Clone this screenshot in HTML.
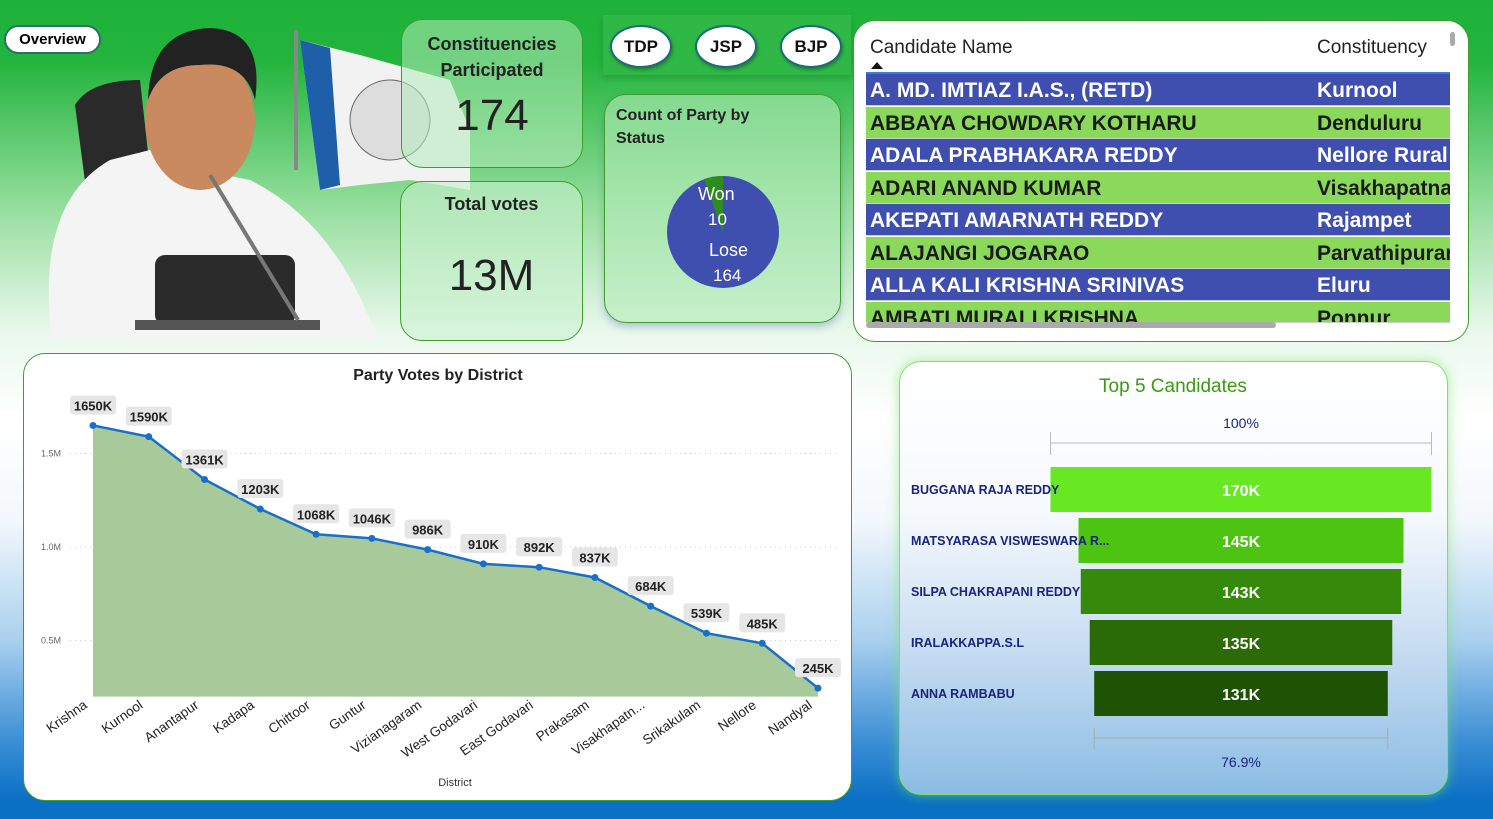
<!DOCTYPE html>
<html><head><meta charset="utf-8">
<style>
*{margin:0;padding:0;box-sizing:border-box}
body{width:1493px;height:819px;overflow:hidden;position:relative;font-family:"Liberation Sans",sans-serif;
background:linear-gradient(180deg,#1fb23a 0px,#22b43c 60px,#8fdc98 200px,#e9f8ec 330px,#ffffff 420px,#f3f8fc 520px,#a9d0ee 640px,#3c8fd6 740px,#0a70c4 800px);}
.card{position:absolute;border-radius:22px;border:1.5px solid #3f9d2c}
.bold{font-weight:bold}
.pill{position:absolute;background:#fff;border-radius:50%;border:2px solid #1a6c7a;box-shadow:1px 2px 3px rgba(0,0,0,.3);font-weight:bold;font-size:17px;display:flex;align-items:center;justify-content:center;color:#111}
.row{position:absolute;left:866px;width:584px;height:32px;font-weight:bold;font-size:21px;line-height:33px;white-space:nowrap;overflow:hidden;border-bottom:1px solid #ccc}
.row span{position:absolute;top:0}
.blue{background:#3f4fb0;color:#fff}.green{background:#8bd95a;color:#1a1a1a}
</style></head><body>
<div style="position:absolute;left:4px;top:25px;width:97px;height:29px;border-radius:15px;background:#fff;border:2px solid #2a6f6a;font-weight:bold;font-size:15px;text-align:center;line-height:25px">Overview</div>

<svg style="position:absolute;left:30px;top:20px" width="440" height="330">
 <rect x="264" y="10" width="4" height="140" fill="#888"/>
 <path d="M270 20 L330 35 L420 60 L440 110 L440 170 L380 160 L330 165 L290 170 Z" fill="#f2f2f2"/>
 <path d="M270 20 L300 28 L310 165 L290 170 Z" fill="#1f5ea8"/>
 <circle cx="360" cy="100" r="40" fill="#ddd" stroke="#666"/>
 <path d="M45 85 Q60 60 110 60 L120 150 L60 200 Z" fill="#2a2a2a"/>
 <path d="M20 300 Q10 180 80 140 L120 130 L170 150 L220 160 Q300 200 340 300 L350 320 L20 320 Z" fill="#f4f4f4"/>
 <ellipse cx="170" cy="100" rx="55" ry="70" fill="#c98a60"/>
 <path d="M118 80 Q120 10 180 8 Q235 10 225 80 Q215 40 170 45 Q130 45 118 80Z" fill="#222"/>
 <rect x="125" y="235" width="140" height="70" rx="10" fill="#2b2b2b"/>
 <rect x="105" y="300" width="185" height="10" fill="#555"/>
 <line x1="180" y1="155" x2="268" y2="300" stroke="#777" stroke-width="4"/>
</svg>

<div class="card" style="left:401px;top:19px;width:182px;height:149px;background:rgba(180,235,185,.55)">
 <div class="bold" style="text-align:center;font-size:18px;margin-top:11px;line-height:26px;color:#222">Constituencies<br>Participated</div>
 <div style="text-align:center;font-size:44px;margin-top:8px;color:#222">174</div>
</div>
<div class="card" style="left:400px;top:181px;width:183px;height:160px;background:rgba(200,240,205,.6)">
 <div class="bold" style="text-align:center;font-size:18px;margin-top:12px;color:#222">Total votes</div>
 <div style="text-align:center;font-size:44px;margin-top:36px;color:#222">13M</div>
</div>

<div style="position:absolute;left:603px;top:15px;width:248px;height:60px;background:#2fb845;box-shadow:0 3px 6px rgba(0,0,0,.15)"></div>
<div class="pill" style="left:610px;top:25px;width:62px;height:43px">TDP</div>
<div class="pill" style="left:695px;top:25px;width:62px;height:43px">JSP</div>
<div class="pill" style="left:780px;top:25px;width:62px;height:43px">BJP</div>

<div class="card" style="left:604px;top:94px;width:237px;height:229px;background:rgba(180,235,185,.6);box-shadow:0 4px 8px rgba(60,80,160,.3)">
 <div class="bold" style="font-size:16px;line-height:23px;margin:9px 0 0 11px;color:#222">Count of Party by<br>Status</div>
</div>
<svg style="position:absolute;left:660px;top:170px" width="130" height="130">
 <circle cx="63" cy="62" r="56" fill="#3f4fb0"/>
 <path d="M63 62 L63 6 A56 56 0 0 0 44 9 Z" fill="#2e8b1e"/>
 <text x="38" y="30" font-size="18" fill="#fff" font-family="Liberation Sans">Won</text>
 <text x="48" y="55" font-size="17" fill="#fff" font-family="Liberation Sans">10</text>
 <text x="49" y="86" font-size="18" fill="#fff" font-family="Liberation Sans">Lose</text>
 <text x="53" y="111" font-size="17" fill="#fff" font-family="Liberation Sans">164</text>
</svg>

<div class="card" style="left:853px;top:20px;width:616px;height:322px;background:#fff;overflow:hidden">
</div>
<div style="position:absolute;left:870px;top:37px;font-size:19px;color:#222">Candidate Name</div>
<div style="position:absolute;left:871px;top:62px;width:0;height:0;border-left:6px solid transparent;border-right:6px solid transparent;border-bottom:7px solid #111"></div>
<div style="position:absolute;left:1317px;top:37px;font-size:19px;color:#222">Constituency</div>
<div style="position:absolute;left:866px;top:72px;width:584px;height:2px;background:#3a7fd8"></div>
<div id="rows"></div>
<div style="position:absolute;left:866px;top:322px;width:410px;height:6px;border-radius:3px;background:#aaa"></div>
<div style="position:absolute;left:1450px;top:32px;width:5px;height:14px;border-radius:3px;background:#aaa"></div>

<div class="card" style="left:23px;top:353px;width:829px;height:448px;background:#fff;border-color:#3f9d2c"></div>
<svg id="area" style="position:absolute;left:0;top:0" width="860" height="819"></svg>

<div class="card" style="left:899px;top:361px;width:549px;height:434px;background:linear-gradient(180deg,#fff 0%,#f6f9fd 35%,#c9def2 65%,#8bbce4 100%);border-color:#7ee06a;box-shadow:0 0 12px rgba(120,230,100,.6)"></div>
<svg id="funnel" style="position:absolute;left:0;top:0" width="1493" height="819"></svg>

<script>
const names=["A. MD. IMTIAZ I.A.S., (RETD)","ABBAYA CHOWDARY KOTHARU","ADALA PRABHAKARA REDDY","ADARI ANAND KUMAR","AKEPATI AMARNATH REDDY","ALAJANGI JOGARAO","ALLA KALI KRISHNA SRINIVAS","AMBATI MURALI KRISHNA"];
const consts=["Kurnool","Denduluru","Nellore Rural","Visakhapatnam","Rajampet","Parvathipuram","Eluru","Ponnur"];
const rowsEl=document.getElementById('rows');
names.forEach((n,i)=>{
 const r=document.createElement('div');
 
 
 r.className='row '+(i%2?'green':'blue');
 r.style.top=(74+i*32.5)+'px';
 if(i===7){r.style.height='21px';}
 r.innerHTML='<span style="left:4px">'+n+'</span><span style="left:451px">'+consts[i]+'</span>';
 rowsEl.appendChild(r);
});

const districts=["Krishna","Kurnool","Anantapur","Kadapa","Chittoor","Guntur","Vizianagaram","West Godavari","East Godavari","Prakasam","Visakhapatn...","Srikakulam","Nellore","Nandyal"];
const votesK=[1650,1590,1361,1203,1068,1046,986,910,892,837,684,539,485,245];
const yTicks=[0.5,1.0,1.5];
const yTickLabels=["0.5M","1.0M","1.5M"];
const NS="http://www.w3.org/2000/svg";
const svg=document.getElementById('area');
const x0=93,x1=818,yMin=0.2;
const X=i=>x0+i*(x1-x0)/(districts.length-1);
const Y=m=>547-(m-1.0)*187;
function mk(t,a,p){const e=document.createElementNS(NS,t);for(const k in a)e.setAttribute(k,a[k]);(p||svg).appendChild(e);return e;}
let t=mk('text',{x:438,y:380,'text-anchor':'middle','font-size':16,'font-weight':'bold',fill:'#222'});t.textContent='Party Votes by District';

yTicks.forEach((v,i)=>{
 const g=mk('line',{x1:70,x2:840,y1:Y(v),y2:Y(v),stroke:'#ccc','stroke-dasharray':'1 4'});
 
 const l=mk('text',{x:61,y:Y(v)+3,'text-anchor':'end','font-size':9,fill:'#666'});l.textContent=yTickLabels[i];
 
});
let d='M'+X(0)+' '+Y(yMin);
votesK.forEach((v,i)=>d+=' L'+X(i)+' '+Y(v/1000));
d+=' L'+X(votesK.length-1)+' '+Y(yMin)+'Z';
const area=mk('path',{d:d,fill:'#a8c99a'});
const line=mk('polyline',{points:votesK.map((v,i)=>X(i)+','+Y(v/1000)).join(' '),fill:'none',stroke:'#1a6fc9','stroke-width':2.5});

votesK.forEach((v,i)=>{
 const c=mk('circle',{cx:X(i),cy:Y(v/1000),r:3.5,fill:'#1a6fc9'});
 
 const lx=X(i), ly=Y(v/1000)-19;
 const bx=mk('rect',{x:lx-23,y:ly-11,width:46,height:19,rx:3,fill:'#e6e6e6'});
 
 const tl=mk('text',{x:lx,y:ly+4,'text-anchor':'middle','font-size':13,'font-weight':'bold',fill:'#222'});tl.textContent=v+'K';
 
 const ax=X(i)-5, ay=707;
 const xl=mk('text',{x:ax,y:ay,'text-anchor':'end','font-size':13.5,fill:'#222',transform:'rotate(-35 '+ax+' '+ay+')'});xl.textContent=districts[i];
 
});
let xt=mk('text',{x:455,y:786,'text-anchor':'middle','font-size':11,fill:'#333'});xt.textContent='District';


const cands=["BUGGANA RAJA REDDY","MATSYARASA VISWESWARA R...","SILPA CHAKRAPANI REDDY","IRALAKKAPPA.S.L","ANNA RAMBABU"];
const candVotesK=[170,145,143,135,131];
const pctLabels=["100%","76.9%"];
const barColors=["#67e822","#4cc411","#368a0b","#2a6b08","#1f5205"];
const fs=document.getElementById('funnel');
const cx=1241,maxW=381,Wd=v=>v/candVotesK[0]*maxW;
function fk(t,a){return mk(t,a,fs);}
let ft=fk('text',{x:1173,y:392,'text-anchor':'middle','font-size':19,fill:'#3a9a12'});ft.textContent='Top 5 Candidates';

let p1=fk('text',{x:cx,y:428,'text-anchor':'middle','font-size':14,fill:'#1a237e'});p1.textContent=pctLabels[0];

fk('line',{x1:cx-maxW/2,x2:cx+maxW/2,y1:443,y2:443,stroke:'#bbb'});
fk('line',{x1:cx-maxW/2,x2:cx-maxW/2,y1:432,y2:455,stroke:'#bbb'});
fk('line',{x1:cx+maxW/2,x2:cx+maxW/2,y1:432,y2:455,stroke:'#bbb'});
candVotesK.forEach((v,i)=>{
 const w=Wd(v),y=467+i*51;
 const r=fk('rect',{x:cx-w/2,y:y,width:w,height:45,fill:barColors[i]});
 
 const tv=fk('text',{x:cx,y:y+29,'text-anchor':'middle','font-size':16,'font-weight':'bold',fill:'#fff'});tv.textContent=v+'K';
 
 const tn=fk('text',{x:911,y:y+27,'font-size':12.5,'font-weight':'bold',fill:'#1a237e'});tn.textContent=cands[i];
 
});
const wl=Wd(candVotesK[4]);
fk('line',{x1:cx-wl/2,x2:cx+wl/2,y1:738,y2:738,stroke:'#aaa'});
fk('line',{x1:cx-wl/2,x2:cx-wl/2,y1:728,y2:750,stroke:'#aaa'});
fk('line',{x1:cx+wl/2,x2:cx+wl/2,y1:728,y2:750,stroke:'#aaa'});
let p2=fk('text',{x:cx,y:767,'text-anchor':'middle','font-size':14,fill:'#1a237e'});p2.textContent=pctLabels[1];

</script>
</body></html>
